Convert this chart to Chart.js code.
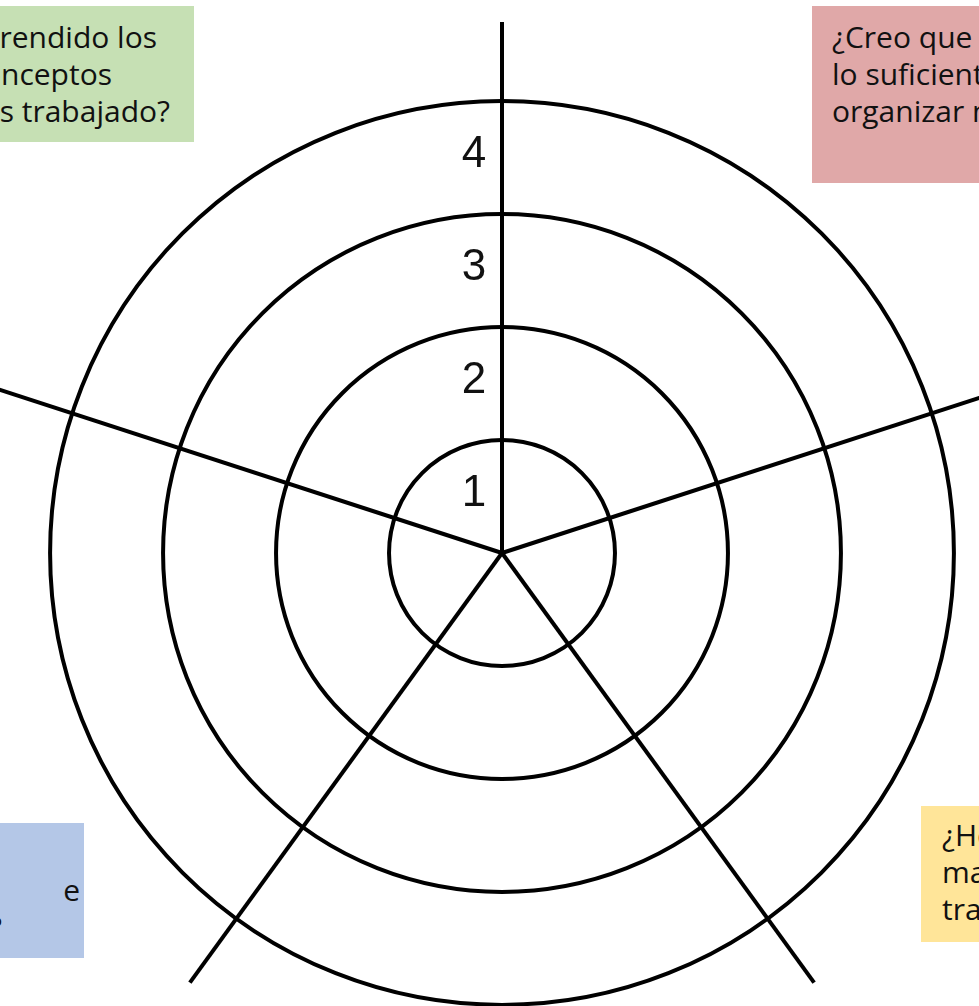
<!DOCTYPE html>
<html lang="es">
<head>
<meta charset="utf-8">
<title>Diana de autoevaluación</title>
<script src="https://cdn.jsdelivr.net/npm/chart.js@4.4.1/dist/chart.umd.min.js"></script>
<style>
  html, body { margin: 0; padding: 0; background: #fff; }
  body { width: 979px; height: 1006px; overflow: hidden; position: relative; }
  #wrap { position: absolute; left: -51px; top: 0; width: 1106px; height: 1106px; }
  .box { position: absolute; box-sizing: border-box; font-family: "Open Sans", sans-serif; font-size: 30px; line-height: 37px; color: #111; white-space: nowrap; }
  .box div { height: 37px; }
</style>
</head>
<body>
<div id="wrap"><canvas id="chart" width="1106" height="1106"></canvas></div>
<script>
// preguntas de la diana, en orden de los ejes (el de arriba queda fuera del recorte)
const categories = [
  [''],
  ['¿Creo que he practicado', 'lo suficiente para', 'organizar mi trabajo?'],
  ['¿He utilizado los', 'materiales de', 'trabajo?'],
  ['¿He ayudado a mis', 'compañeros e', 'intentado mejorar?'],
  ['¿He comprendido los', 'nuevos conceptos', 'que hemos trabajado?']
];
const tickValues = [1, 2, 3, 4];
const tickLabels = ['1', '2', '3', '4'];
const scaleMax = 4.7;

const boxColors = [null, '#e0a8a8', '#ffe599', '#b4c7e7', '#c6e0b4'];
// cajas de texto: posicion en la pagina; las de la izquierda se cortan, asi que se fija el final de cada linea
const boxLayout = [
  null,
  {left: 812, top: 6, width: 260, height: 177, align: 'left', pad: 20, padTop: 12},
  {left: 921, top: 806, width: 260, height: 136, align: 'left', pad: 21, padTop: 10},
  {left: -316, top: 823, width: 400, height: 135, align: 'right', ends: [-30, 80, 2], justify: [null, -240, null], padTop: 11},
  {left: -206, top: 6, width: 400, height: 136, align: 'right', ends: [157, 112, 170], padTop: 12}
];

boxLayout.forEach((b, i) => {
  if (!b) return;
  const el = document.createElement('div');
  el.className = 'box';
  el.style.left = b.left + 'px';
  el.style.top = b.top + 'px';
  el.style.width = b.width + 'px';
  el.style.height = b.height + 'px';
  el.style.background = boxColors[i];
  el.style.paddingTop = b.padTop + 'px';
  categories[i].forEach((line, j) => {
    const d = document.createElement('div');
    d.textContent = line;
    if (b.align === 'left') {
      d.style.paddingLeft = b.pad + 'px';
    } else {
      d.style.textAlign = 'right';
      d.style.paddingRight = (b.left + b.width - b.ends[j]) + 'px';
      if (b.justify && b.justify[j] != null) {
        // linea justificada: la palabra final queda separada
        d.style.textAlign = 'justify';
        d.style.textAlignLast = 'justify';
        d.style.paddingLeft = (b.justify[j] - b.left) + 'px';
      }
    }
    el.appendChild(d);
  });
  document.body.appendChild(el);
});

new Chart(document.getElementById('chart'), {
  type: 'radar',
  data: {
    labels: categories.map(l => l.join(' ')),
    datasets: []
  },
  options: {
    responsive: false,
    animation: false,
    devicePixelRatio: 1,
    plugins: { legend: { display: false }, tooltip: { enabled: false } },
    scales: {
      r: {
        min: 0,
        max: scaleMax,
        bounds: 'data',
        grid: { circular: true, color: '#000', lineWidth: 4 },
        angleLines: { color: '#000', lineWidth: 4 },
        pointLabels: { display: false },
        ticks: {
          stepSize: 1,
          includeBounds: false,
          showLabelBackdrop: false,
          backdropPadding: 0,
          color: '#111',
          font: { family: '"Liberation Sans", Arial, sans-serif', size: 44, lineHeight: 1.225 },
          // etiqueta una linea por debajo del anillo y algo a la izquierda del eje
          callback: v => {
            const i = tickValues.indexOf(v);
            return i < 0 ? '' : ['', tickLabels[i] + '\u2002\u2002 '];
          }
        }
      }
    }
  }
});
</script>
</body>
</html>
